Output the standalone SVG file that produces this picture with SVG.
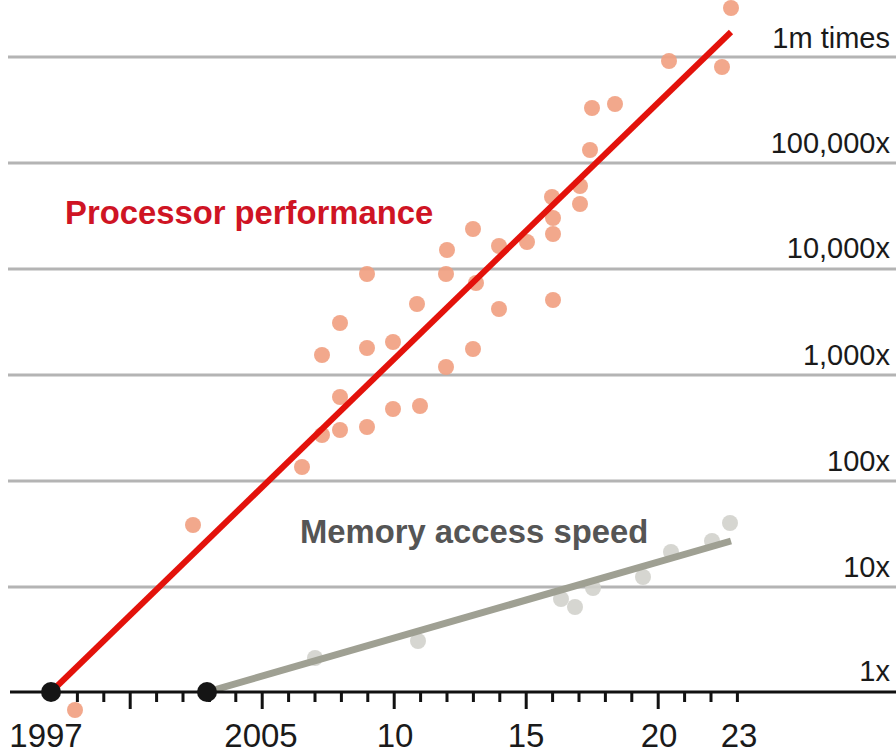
<svg xmlns="http://www.w3.org/2000/svg" width="896" height="753" viewBox="0 0 896 753">
<defs>
<style>
.grid{stroke:#b4b4b4;stroke-width:3;fill:none}
.axis{stroke:#111;stroke-width:3;fill:none}
.tick{stroke:#111;stroke-width:3}
.ylab{font-family:"Liberation Sans",Arial,sans-serif;font-size:29px;fill:#1a1a1a;text-anchor:end}
.xlab{font-family:"Liberation Sans",Arial,sans-serif;font-size:33px;fill:#1a1a1a;text-anchor:middle}
.pdot{fill:#f19e80;opacity:0.9}
.mdot{fill:#d2d2cc;opacity:0.9}
.title{font-family:"Liberation Sans",Arial,sans-serif;font-size:32.8px;font-weight:bold}
</style>
</defs>
<rect width="896" height="753" fill="#ffffff"/>
<g id="gridlines">
<line class="grid" x1="8" y1="57" x2="896" y2="57"/>
<line class="grid" x1="8" y1="163" x2="896" y2="163"/>
<line class="grid" x1="8" y1="269" x2="896" y2="269"/>
<line class="grid" x1="8" y1="375" x2="896" y2="375"/>
<line class="grid" x1="8" y1="481" x2="896" y2="481"/>
<line class="grid" x1="8" y1="587" x2="896" y2="587"/>
</g>
<g id="y-labels">
<text class="ylab" x="890" y="48">1m times</text>
<text class="ylab" x="890" y="153">100,000x</text>
<text class="ylab" x="890" y="258">10,000x</text>
<text class="ylab" x="890" y="365">1,000x</text>
<text class="ylab" x="890" y="471">100x</text>
<text class="ylab" x="890" y="577">10x</text>
<text class="ylab" x="890" y="681">1x</text>
</g>
<g id="processor-points">
<circle class="pdot" cx="731" cy="8" r="8"/>
<circle class="pdot" cx="669" cy="61" r="8"/>
<circle class="pdot" cx="722" cy="67" r="8"/>
<circle class="pdot" cx="592" cy="108" r="8"/>
<circle class="pdot" cx="615" cy="104" r="8"/>
<circle class="pdot" cx="590" cy="150" r="8"/>
<circle class="pdot" cx="580" cy="186" r="8"/>
<circle class="pdot" cx="552" cy="197" r="8"/>
<circle class="pdot" cx="580" cy="204" r="8"/>
<circle class="pdot" cx="553" cy="218" r="8"/>
<circle class="pdot" cx="553" cy="234" r="8"/>
<circle class="pdot" cx="473" cy="229" r="8"/>
<circle class="pdot" cx="447" cy="250" r="8"/>
<circle class="pdot" cx="499" cy="246" r="8"/>
<circle class="pdot" cx="527" cy="242" r="8"/>
<circle class="pdot" cx="367" cy="274" r="8"/>
<circle class="pdot" cx="446" cy="274" r="8"/>
<circle class="pdot" cx="476" cy="283" r="8"/>
<circle class="pdot" cx="417" cy="304" r="8"/>
<circle class="pdot" cx="499" cy="309" r="8"/>
<circle class="pdot" cx="553" cy="300" r="8"/>
<circle class="pdot" cx="340" cy="323" r="8"/>
<circle class="pdot" cx="322" cy="355" r="8"/>
<circle class="pdot" cx="367" cy="348" r="8"/>
<circle class="pdot" cx="393" cy="342" r="8"/>
<circle class="pdot" cx="473" cy="349" r="8"/>
<circle class="pdot" cx="446" cy="367" r="8"/>
<circle class="pdot" cx="340" cy="397" r="8"/>
<circle class="pdot" cx="322" cy="435" r="8"/>
<circle class="pdot" cx="340" cy="430" r="8"/>
<circle class="pdot" cx="367" cy="427" r="8"/>
<circle class="pdot" cx="393" cy="409" r="8"/>
<circle class="pdot" cx="420" cy="406" r="8"/>
<circle class="pdot" cx="302" cy="467" r="8"/>
<circle class="pdot" cx="193" cy="525" r="8"/>
<circle class="pdot" cx="75" cy="710" r="8"/>
</g>
<g id="memory-points">
<circle class="mdot" cx="730" cy="523" r="8"/>
<circle class="mdot" cx="712" cy="541" r="8"/>
<circle class="mdot" cx="671" cy="552" r="8"/>
<circle class="mdot" cx="643" cy="577" r="8"/>
<circle class="mdot" cx="593" cy="588" r="8"/>
<circle class="mdot" cx="561" cy="599" r="8"/>
<circle class="mdot" cx="575" cy="607" r="8"/>
<circle class="mdot" cx="418" cy="641" r="8"/>
<circle class="mdot" cx="315" cy="658" r="8"/>
</g>
<g id="connectors">
<line x1="51" y1="692" x2="731" y2="32" stroke="#e3120b" stroke-width="6"/>
<line x1="207" y1="692" x2="731" y2="541" stroke="#9fa093" stroke-width="7"/>
</g>
<g id="x-axis">
<line class="axis" x1="10" y1="692" x2="896" y2="692"/>
<path class="tick" d="M77.4 692v10M103.8 692v10M130.2 692v17M156.6 692v10M183 692v10M209.4 692v10M235.8 692v10M262.2 692v17M288.6 692v10M315 692v10M341.4 692v10M367.8 692v10M394.2 692v17M420.6 692v10M447 692v10M473.4 692v10M499.8 692v10M526.2 692v17M552.6 692v10M579 692v10M605.4 692v10M631.8 692v10M658.2 692v17M684.6 692v10M711 692v10M737.4 692v10"/>
<text class="xlab" x="46" y="747">1997</text>
<text class="xlab" x="261" y="747">2005</text>
<text class="xlab" x="395" y="747">10</text>
<text class="xlab" x="526" y="747">15</text>
<text class="xlab" x="659" y="747">20</text>
<text class="xlab" x="739" y="747">23</text>
</g>
<g id="start-dots">
<circle cx="51" cy="692" r="10" fill="#151515"/>
<circle cx="207" cy="692" r="10" fill="#151515"/>
</g>
<g id="labels">
<text class="title" x="65" y="224" fill="#cf1424">Processor performance</text>
<text class="title" x="300" y="543" fill="#555555">Memory access speed</text>
</g>
</svg>
